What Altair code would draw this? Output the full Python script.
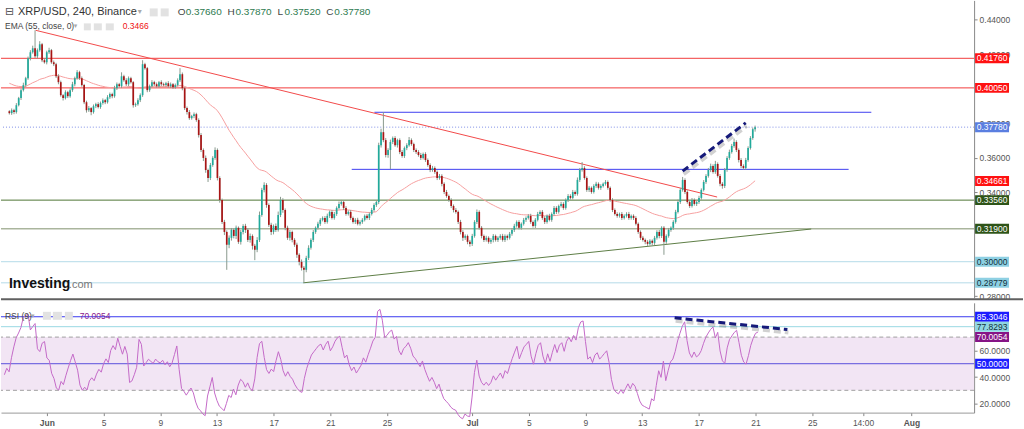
import altair as alt
import pandas as pd
from datetime import datetime, timezone


def ms(s):
    return int(datetime.strptime(s, "%Y-%m-%d %H:%M").replace(tzinfo=timezone.utc).timestamp() * 1000)


# ---------------- data ----------------
FIRST_CANDLE = "2018-05-29 00:00"
CANDLE_HOURS = 4
FIRST_OPEN = 0.3870

closes = [
    0.3859, 0.3876, 0.3865, 0.3905, 0.3946, 0.3992, 0.4021, 0.4061, 0.4176, 0.4211,
    0.4234, 0.4188, 0.4223, 0.4257, 0.4165, 0.4153, 0.4211, 0.4223, 0.4153, 0.4142,
    0.4072, 0.4038, 0.3963, 0.3946, 0.3980, 0.3957, 0.3992, 0.4026, 0.4061, 0.4096,
    0.4061, 0.4021, 0.3922, 0.3876, 0.3888, 0.3865, 0.3899, 0.3911, 0.3894, 0.3917,
    0.3934, 0.3922, 0.3951, 0.3969, 0.3957, 0.4003, 0.4026, 0.4015, 0.4072, 0.4049,
    0.4026, 0.4061, 0.4038, 0.3905, 0.3911, 0.3934, 0.3963, 0.4142, 0.4119, 0.3992,
    0.4015, 0.4038, 0.4026, 0.4015, 0.4038, 0.4026, 0.4021, 0.4032, 0.4015, 0.4026,
    0.4009, 0.4021, 0.4049, 0.4084, 0.4003, 0.3888, 0.3865, 0.3830, 0.3842, 0.3853,
    0.3819, 0.3732, 0.3646, 0.3600, 0.3530, 0.3484, 0.3559, 0.3600, 0.3646, 0.3484,
    0.3357, 0.3230, 0.3172, 0.3098, 0.3138, 0.3184, 0.3149, 0.3196, 0.3115, 0.3172,
    0.3207, 0.3184, 0.3126, 0.3149, 0.3092, 0.3069, 0.3126, 0.3270, 0.3415, 0.3444,
    0.3328, 0.3213, 0.3172, 0.3207, 0.3184, 0.3270, 0.3357, 0.3299, 0.3196, 0.3138,
    0.3172, 0.3126, 0.3098, 0.3040, 0.2999, 0.2965, 0.2953, 0.3022, 0.3080, 0.3126,
    0.3172, 0.3196, 0.3219, 0.3242, 0.3253, 0.3230, 0.3265, 0.3288, 0.3253, 0.3276,
    0.3311, 0.3334, 0.3345, 0.3311, 0.3276, 0.3288, 0.3253, 0.3230, 0.3242, 0.3219,
    0.3230, 0.3242, 0.3265, 0.3253, 0.3276, 0.3299, 0.3328, 0.3345, 0.3674, 0.3749,
    0.3703, 0.3617, 0.3646, 0.3692, 0.3715, 0.3674, 0.3703, 0.3634, 0.3611, 0.3657,
    0.3674, 0.3703, 0.3680, 0.3646, 0.3634, 0.3617, 0.3600, 0.3623, 0.3588, 0.3559,
    0.3530, 0.3542, 0.3519, 0.3484, 0.3496, 0.3450, 0.3403, 0.3380, 0.3357, 0.3322,
    0.3299, 0.3288, 0.3230, 0.3172, 0.3138, 0.3149, 0.3115, 0.3103, 0.3149, 0.3230,
    0.3288, 0.3196, 0.3149, 0.3126, 0.3138, 0.3115, 0.3126, 0.3149, 0.3126, 0.3138,
    0.3149, 0.3126, 0.3149, 0.3138, 0.3161, 0.3184, 0.3207, 0.3230, 0.3196, 0.3219,
    0.3242, 0.3253, 0.3265, 0.3230, 0.3207, 0.3242, 0.3276, 0.3288, 0.3253, 0.3230,
    0.3265, 0.3242, 0.3276, 0.3311, 0.3288, 0.3322, 0.3334, 0.3311, 0.3357, 0.3380,
    0.3369, 0.3403, 0.3392, 0.3473, 0.3530, 0.3542, 0.3484, 0.3415, 0.3427, 0.3403,
    0.3438, 0.3450, 0.3427, 0.3438, 0.3450, 0.3461, 0.3427, 0.3357, 0.3299, 0.3276,
    0.3265, 0.3276, 0.3253, 0.3265, 0.3276, 0.3253, 0.3265, 0.3253, 0.3219, 0.3172,
    0.3138, 0.3126, 0.3115, 0.3103, 0.3121, 0.3109, 0.3138, 0.3172, 0.3149, 0.3196,
    0.3115, 0.3149, 0.3184, 0.3196, 0.3230, 0.3288, 0.3345, 0.3415, 0.3473, 0.3403,
    0.3345, 0.3322, 0.3357, 0.3334, 0.3345, 0.3369, 0.3415, 0.3461, 0.3496, 0.3530,
    0.3553, 0.3519, 0.3565, 0.3496, 0.3450, 0.3438, 0.3530, 0.3600, 0.3634, 0.3669,
    0.3692, 0.3646, 0.3588, 0.3553, 0.3542, 0.3588, 0.3657, 0.3715, 0.3766, 0.3778,
]

# wick lengths above / below the body, in units of 0.0001
wick_up = [
    6, 10, 8, 12, 7, 9, 14, 8, 10, 12, 15, 104, 10, 18, 8, 12, 9, 14, 7, 10,
    8, 12, 9, 6, 11, 8, 10, 14, 9, 12, 8, 10, 7, 9, 12, 6, 10, 8, 11, 9,
    10, 7, 12, 9, 8, 14, 10, 8, 23, 9, 12, 10, 8, 6, 9, 11, 10, 23, 8, 7,
    9, 12, 8, 10, 7, 11, 9, 8, 12, 10, 7, 9, 11, 35, 10, 8, 9, 12, 7, 10,
    8, 10, 12, 9, 14, 8, 12, 10, 15, 9, 10, 8, 12, 9, 14, 11, 9, 13, 8, 12,
    10, 12, 8, 14, 9, 11, 16, 20, 12, 15, 10, 9, 12, 8, 14, 20, 18, 10, 9, 12,
    11, 8, 10, 12, 9, 14, 10, 12, 15, 9, 11, 8, 12, 10, 9, 11, 13, 8, 10, 12,
    9, 14, 12, 8, 10, 9, 11, 8, 10, 12, 9, 10, 8, 11, 9, 12, 10, 9, 14, 20,
    116, 12, 10, 14, 9, 11, 8, 10, 12, 9, 11, 18, 10, 8, 9, 11, 12, 8, 10, 9,
    10, 12, 9, 8, 11, 10, 9, 12, 8, 10, 9, 11, 8, 12, 10, 9, 8, 11, 12, 10,
    14, 9, 10, 8, 12, 9, 10, 11, 8, 9, 10, 12, 9, 8, 11, 10, 12, 9, 10, 8,
    11, 9, 10, 12, 8, 10, 12, 9, 11, 10, 8, 12, 9, 11, 10, 8, 12, 10, 9, 11,
    10, 12, 9, 14, 12, 34, 10, 9, 11, 8, 10, 12, 9, 10, 8, 11, 9, 8, 10, 9,
    10, 8, 11, 9, 10, 12, 8, 9, 10, 8, 9, 11, 8, 10, 9, 8, 11, 10, 12, 9,
    10, 9, 11, 8, 10, 12, 14, 11, 17, 9, 10, 8, 11, 9, 10, 12, 9, 11, 10, 12,
    14, 10, 18, 9, 11, 10, 12, 10, 14, 12, 20, 10, 9, 11, 10, 12, 10, 11, 9, 9,
]
wick_dn = [
    8, 10, 12, 9, 7, 11, 8, 10, 9, 12, 8, 10, 14, 9, 11, 8, 12, 10, 9, 11,
    10, 12, 9, 14, 8, 11, 9, 10, 12, 8, 10, 9, 11, 14, 10, 18, 9, 11, 8, 10,
    9, 11, 8, 10, 12, 9, 10, 8, 11, 9, 10, 12, 8, 14, 10, 9, 11, 10, 9, 12,
    10, 8, 11, 9, 10, 12, 8, 10, 9, 11, 10, 9, 8, 10, 12, 11, 14, 10, 9, 12,
    10, 14, 12, 18, 16, 23, 12, 10, 11, 14, 16, 12, 18, 145, 20, 16, 14, 18, 12, 16,
    14, 18, 12, 16, 22, 60, 14, 12, 10, 14, 16, 12, 18, 14, 12, 10, 12, 16, 14, 12,
    16, 14, 12, 18, 20, 16, 75, 14, 12, 10, 12, 11, 10, 12, 9, 11, 10, 12, 9, 10,
    11, 9, 10, 12, 10, 9, 11, 10, 12, 9, 10, 11, 9, 10, 12, 9, 10, 11, 12, 14,
    12, 14, 16, 110, 12, 10, 14, 12, 10, 11, 12, 9, 10, 12, 11, 10, 12, 9, 11, 10,
    12, 10, 11, 12, 10, 14, 12, 10, 11, 12, 14, 10, 12, 14, 18, 12, 14, 16, 12, 10,
    12, 10, 14, 12, 10, 11, 12, 14, 10, 12, 11, 10, 12, 14, 10, 11, 12, 10, 9, 11,
    10, 12, 9, 11, 10, 12, 9, 10, 11, 12, 10, 9, 11, 10, 12, 10, 9, 11, 10, 12,
    10, 9, 11, 10, 12, 9, 10, 11, 12, 10, 9, 11, 10, 12, 9, 10, 11, 10, 12, 9,
    11, 10, 12, 9, 10, 11, 10, 12, 9, 11, 12, 10, 14, 12, 10, 16, 12, 10, 14, 12,
    75, 12, 10, 11, 12, 10, 9, 11, 10, 12, 10, 11, 9, 10, 12, 11, 10, 9, 11, 10,
    12, 10, 11, 10, 14, 16, 12, 10, 11, 9, 10, 12, 14, 12, 10, 11, 10, 9, 10, 14,
]

EMA_PERIOD = 55
EMA_SEED = 0.4038          # EMA value at the left edge
RSI_PERIOD = 9
RSI_SEED_GAIN = 0.0011     # gives RSI ~44 at the left edge
RSI_SEED_LOSS = 0.0014

# horizontal price levels (full width)
level_prices = [0.4176, 0.4005, 0.3356, 0.3190, 0.3000, 0.28779]
level_colors = ["#f23c3c", "#f23c3c", "#4f7535", "#80906c", "#b4dbe8", "#b4dbe8"]
last_price = 0.3778

# blue segments
seg_prices = [0.3864, 0.3534]
seg_start = ["2018-06-24 00:40", "2018-06-22 09:50"]
seg_end = ["2018-07-29 10:50", "2018-07-27 20:00"]

# trend lines
red_trend_t = ["2018-05-30 21:00", "2018-07-18 11:00"]
red_trend_p = [0.4338, 0.3374]
green_trend_t = ["2018-06-18 23:00", "2018-07-25 04:00"]
green_trend_p = [0.28779, 0.3189]
navy_price_t = ["2018-07-16 00:00", "2018-07-20 12:00"]
navy_price_p = [0.3524, 0.3803]
navy_rsi_t = ["2018-07-15 07:00", "2018-07-23 06:00"]
navy_rsi_v = [84.5, 75.7]

# right-hand price tags
tag_text = ["0.41760", "0.40050", "0.37780", "0.34661", "0.33560", "0.31900", "0.30000", "0.28779"]
tag_price = [0.4176, 0.4005, 0.3778, 0.34661, 0.3356, 0.3190, 0.3000, 0.28779]
tag_bg = ["#ff1111", "#ff1111", "#5a7ee0", "#ff1111", "#2e5418", "#2e5418", "#8ed0e3", "#8ed0e3"]
tag_fg = ["#ffffff", "#ffffff", "#ffffff", "#ffffff", "#ffffff", "#ffffff", "#14303a", "#14303a"]

rsi_tag_text = ["85.3046", "77.8293", "70.0054", "50.0000"]
rsi_tag_val = [85.3046, 77.8293, 70.0054, 50.0]
rsi_tag_bg = ["#1c1cff", "#8fd6e2", "#861486", "#1c1cff"]
rsi_tag_fg = ["#ffffff", "#14303a", "#ffffff", "#ffffff"]

rsi_levels = [85.3046, 77.8293, 50.0]
rsi_level_colors = ["#3a3af0", "#9ad8e4", "#5a50dc"]
rsi_band = [30, 70]

# axis labels that are not hidden behind a tag
price_ticks = [0.28, 0.34, 0.36, 0.38, 0.42, 0.44]
rsi_ticks = [20, 40, 60]
x_tick_dates = ["2018-06-01 00:00", "2018-06-05 00:00", "2018-06-09 00:00", "2018-06-13 00:00",
                "2018-06-17 00:00", "2018-06-21 00:00", "2018-06-25 00:00", "2018-07-01 00:00",
                "2018-07-05 00:00", "2018-07-09 00:00", "2018-07-13 00:00", "2018-07-17 00:00",
                "2018-07-21 00:00", "2018-07-25 00:00", "2018-07-28 14:00", "2018-08-01 00:00"]
x_domain = ["2018-05-28 18:16", "2018-08-05 10:09"]
price_domain = [0.27911, 0.45107]
rsi_domain = [13.24, 95.76]

assert len(closes) == len(wick_up) == len(wick_dn) == 320

# ---------------- derived tables ----------------
t0 = ms(FIRST_CANDLE)
step = CANDLE_HOURS * 3600 * 1000
opens = [FIRST_OPEN] + closes[:-1]
rows = []
ema = EMA_SEED
ag, al = RSI_SEED_GAIN, RSI_SEED_LOSS
k = 2.0 / (EMA_PERIOD + 1)
for i, (o, c) in enumerate(zip(opens, closes)):
    ema = ema + (c - ema) * k
    ch = c - o
    ag = (ag * (RSI_PERIOD - 1) + max(ch, 0)) / RSI_PERIOD
    al = (al * (RSI_PERIOD - 1) + max(-ch, 0)) / RSI_PERIOD
    rsi = 100 - 100 / (1 + ag / al)
    rows.append(dict(t=t0 + i * step, open=o, close=c,
                     high=max(o, c) + wick_up[i] / 1e4, low=min(o, c) - wick_dn[i] / 1e4,
                     dir="up" if c >= o else "down", ema=ema, rsi=rsi))
df = pd.DataFrame(rows)

levels_df = pd.DataFrame({"p": level_prices, "col": level_colors})
seg_df = pd.DataFrame({"p": seg_prices, "t1": [ms(s) for s in seg_start], "t2": [ms(s) for s in seg_end]})
red_df = pd.DataFrame({"t": [ms(s) for s in red_trend_t], "p": red_trend_p})
green_df = pd.DataFrame({"t": [ms(s) for s in green_trend_t], "p": green_trend_p})
navy_df = pd.DataFrame({"t": [ms(s) for s in navy_price_t], "p": navy_price_p})
navy_rsi_df = pd.DataFrame({"t": [ms(s) for s in navy_rsi_t], "v": navy_rsi_v})
tags_df = pd.DataFrame({"p": tag_price, "s": tag_text, "bg": tag_bg, "fg": tag_fg})
rsi_tags_df = pd.DataFrame({"v": rsi_tag_val, "s": rsi_tag_text, "bg": rsi_tag_bg, "fg": rsi_tag_fg})
rsi_levels_df = pd.DataFrame({"v": rsi_levels, "col": rsi_level_colors})
band_df = pd.DataFrame({"lo": [rsi_band[0]], "hi": [rsi_band[1]]})
dash_df = pd.DataFrame({"v": rsi_band})
last_df = pd.DataFrame({"p": [last_price]})

FONT = "Liberation Sans"
W = 975
XS = alt.Scale(type="utc", domain=[ms(x_domain[0]), ms(x_domain[1])], nice=False)
YS = alt.Scale(domain=price_domain, nice=False, zero=False)
RS = alt.Scale(domain=rsi_domain, nice=False, zero=False)

YAX = alt.Axis(orient="right", values=price_ticks, format=".5f", title=None, grid=False,
               labelFont=FONT, labelFontSize=8.5, labelColor="#555555", tickSize=3,
               tickColor="#888888", domainColor="#888888", labelPadding=2)
RAX = alt.Axis(orient="right", values=rsi_ticks, format=".4f", title=None, grid=False,
               labelFont=FONT, labelFontSize=8.5, labelColor="#555555", tickSize=3,
               tickColor="#888888", domainColor="#888888", labelPadding=2)
XAX = alt.Axis(values=[ms(s) for s in x_tick_dates], title=None, grid=False,
               labelExpr="utcdate(datum.value) == 1 ? utcFormat(datum.value, '%b') : "
                         "(utchours(datum.value) == 14 ? '14:00' : '' + utcdate(datum.value))",
               labelFont=FONT, labelFontSize=8.5, labelColor="#555555", tickSize=3,
               tickColor="#888888", domainColor="#999999", labelPadding=3,
               labelFontWeight={"condition": {"test": "utcdate(datum.value) == 1", "value": "bold"},
                                "value": "normal"})


def px(field):
    return alt.X(field, type="temporal", scale=XS, axis=None)


def py(field):
    return alt.Y(field, type="quantitative", scale=YS, axis=YAX)


def txt(s, x, y, size, color, weight="normal", font=FONT, align="left"):
    return alt.Chart(pd.DataFrame({"s": [s]})).mark_text(
        align=align, baseline="middle", fontSize=size, font=font, fontWeight=weight, color=color
    ).encode(x=alt.value(x), y=alt.value(y), text="s:N")


def icon(x, y, w=8, h=8):
    return alt.Chart(pd.DataFrame({"a": [0]})).mark_rect(color="#e2e2e2").encode(
        x=alt.value(x), x2=alt.value(x + w), y=alt.value(y), y2=alt.value(y + h))


# ---------------- main panel ----------------
levels = alt.Chart(levels_df).mark_rule(strokeWidth=1).encode(
    y=py("p"), color=alt.Color("col:N", scale=None))
last_line = alt.Chart(last_df).mark_rule(strokeWidth=1, strokeDash=[1, 2], color="#7f8fe6").encode(y=py("p"))
segs = alt.Chart(seg_df).mark_rule(strokeWidth=1, color="#3f3ff0").encode(
    x=px("t1"), x2="t2", y=py("p"))
ema_line = alt.Chart(df).mark_line(strokeWidth=1, color="#f6a0a0").encode(x=px("t"), y=py("ema"))
wicks = alt.Chart(df).mark_rule(strokeWidth=1, color="#8a9a8e").encode(x=px("t"), y=py("low"), y2="high")
bodies = alt.Chart(df).mark_bar(width=1.7).encode(
    x=px("t"), y=py("open"), y2="close",
    color=alt.Color("dir:N", scale=alt.Scale(domain=["up", "down"], range=["#21aa9b", "#a81414"]), legend=None))
red_line = alt.Chart(red_df).mark_line(strokeWidth=1, color="#f24a4a").encode(x=px("t"), y=py("p"))
green_line = alt.Chart(green_df).mark_line(strokeWidth=1, color="#5d7d45").encode(x=px("t"), y=py("p"))
navy_shadow = alt.Chart(navy_df).mark_line(strokeWidth=4, strokeDash=[7, 4], color="#000000",
                                           opacity=0.18, yOffset=3, xOffset=1).encode(x=px("t"), y=py("p"))
navy_line = alt.Chart(navy_df).mark_line(strokeWidth=3, strokeDash=[7, 4], color="#161a7a").encode(
    x=px("t"), y=py("p"))
tag_boxes = alt.Chart(tags_df).mark_tick(size=34, thickness=10, opacity=1).encode(
    x=alt.value(993), y=py("p"), color=alt.Color("bg:N", scale=None))
tag_texts = alt.Chart(tags_df).mark_text(fontSize=8.5, font=FONT, align="center", baseline="middle").encode(
    x=alt.value(993), y=py("p"), text="s:N", color=alt.Color("fg:N", scale=None))
separator = alt.Chart(pd.DataFrame({"a": [0]})).mark_rule(strokeWidth=2, color="#606060").encode(
    x=alt.value(0), x2=alt.value(1024), y=alt.value(299.5))

header = [
    txt("⊟", 4, 12, 11, "#555555", font="DejaVu Sans"),
    txt("XRP/USD, 240, Binance", 17, 12, 11, "#333333"),
    txt("▾", 137, 12, 8, "#aaaaaa", font="DejaVu Sans"),
    icon(149, 8), icon(160, 8),
    txt("O", 177, 12, 10, "#444444"), txt("0.37660", 185, 12, 10, "#2e7a50"),
    txt("H", 227, 12, 10, "#444444"), txt("0.37870", 235, 12, 10, "#2e7a50"),
    txt("L", 277, 12, 10, "#444444"), txt("0.37520", 284, 12, 10, "#2e7a50"),
    txt("C", 326, 12, 10, "#444444"), txt("0.37780", 334, 12, 10, "#2e7a50"),
    txt("EMA (55, close, 0)", 4, 26, 8.5, "#444444"),
    txt("▾", 73, 26, 7, "#aaaaaa", font="DejaVu Sans"),
    icon(83, 23, 7, 7), icon(93, 23, 8, 7), icon(105, 23, 8, 7),
    txt("0.3466", 122, 26, 8.5, "#ee1111"),
    txt("Investing", 8, 284, 14, "#111111", weight="bold"),
    txt(".com", 68, 285, 11, "#777777"),
]

main = alt.layer(
    levels, last_line, segs, ema_line, red_line, green_line, wicks, bodies,
    navy_shadow, navy_line, tag_boxes, tag_texts, separator, *header
).properties(width=W, height=298)

# ---------------- RSI panel ----------------
def rx(field, axis=None):
    return alt.X(field, type="temporal", scale=XS, axis=axis)


def ry(field):
    return alt.Y(field, type="quantitative", scale=RS, axis=RAX)


band = alt.Chart(band_df).mark_rect(color="#f2e5f4").encode(
    x=alt.value(0), x2=alt.value(W), y=ry("lo"), y2="hi")
dashes = alt.Chart(dash_df).mark_rule(strokeWidth=1, strokeDash=[4, 3], color="#a0a0a0").encode(y=ry("v"))
rlevels = alt.Chart(rsi_levels_df).mark_rule(strokeWidth=1).encode(
    y=ry("v"), color=alt.Color("col:N", scale=None))
rsi_line = alt.Chart(df).mark_line(strokeWidth=1, color="#c46ac8").encode(x=rx("t", XAX), y=ry("rsi"))
rnavy_shadow = alt.Chart(navy_rsi_df).mark_line(strokeWidth=4, strokeDash=[7, 4], color="#000000",
                                                opacity=0.18, yOffset=3, xOffset=1).encode(x=rx("t", XAX), y=ry("v"))
rnavy = alt.Chart(navy_rsi_df).mark_line(strokeWidth=3, strokeDash=[7, 4], color="#161a7a").encode(
    x=rx("t", XAX), y=ry("v"))
rtag_boxes = alt.Chart(rsi_tags_df).mark_tick(size=34, thickness=10, opacity=1).encode(
    x=alt.value(993), y=ry("v"), color=alt.Color("bg:N", scale=None))
rtag_texts = alt.Chart(rsi_tags_df).mark_text(fontSize=8.5, font=FONT, align="center", baseline="middle").encode(
    x=alt.value(993), y=ry("v"), text="s:N", color=alt.Color("fg:N", scale=None))
rheader = [
    txt("RSI (9)", 4, 13, 8.5, "#444444"),
    txt("▾", 30, 13, 7, "#aaaaaa", font="DejaVu Sans"),
    icon(42, 9), icon(52, 9, 9, 8), icon(64, 9),
    txt("70.0054", 79, 13, 8.5, "#8b1a8b"),
]

rsi_chart = alt.layer(
    band, dashes, rlevels, rsi_line, rnavy_shadow, rnavy, rtag_boxes, rtag_texts, *rheader
).properties(width=W, height=110)

chart = alt.vconcat(main, rsi_chart, spacing=2).resolve_scale(
    x="independent", y="independent"
).properties(padding=0, background="white").configure_view(stroke=None)

chart.save("out.html", embed_options={"renderer": "svg", "actions": False})
